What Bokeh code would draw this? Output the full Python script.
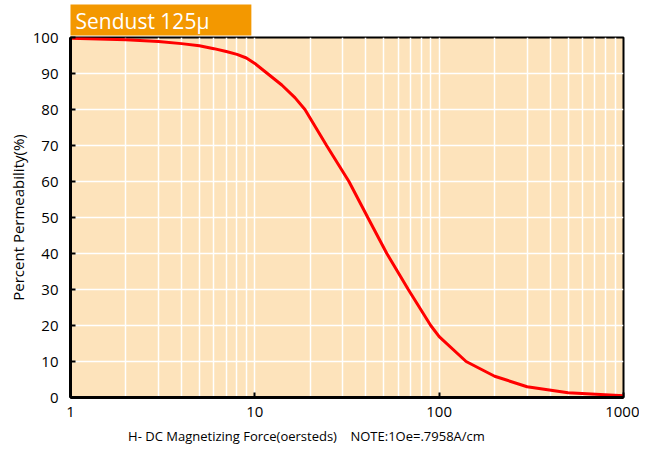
from bokeh.plotting import figure
from bokeh.models import Range1d, FixedTicker, NumeralTickFormatter
from bokeh.embed import file_html
from bokeh.resources import INLINE

# DC bias curve, Sendust 125u
H_oe = [1, 2, 3, 4, 5, 6, 7, 8, 9, 10, 11.7, 14, 16.5, 18.7, 24.5, 32.4,
        41, 52, 68, 90, 100, 140, 200, 300, 500, 1000]
perm_pct = [99.8, 99.4, 98.9, 98.3, 97.7, 96.9, 96.1, 95.3, 94.3, 92.8, 90, 86.8, 83.3, 80, 70, 60,
            50, 40, 30, 20, 16.9, 10, 5.9, 3.0, 1.3, 0.5]

x_ticks = [1, 10, 100, 1000]
y_ticks = [0, 10, 20, 30, 40, 50, 60, 70, 80, 90, 100]
x_grid_values = [2, 3, 4, 5, 6, 7, 8, 9, 10, 20, 30, 40, 50, 60, 70, 80, 90, 100,
                 200, 300, 400, 500, 600, 700, 800, 900]

title_text = "Sendust 125μ"
NB = "\u00a0"
x_label = "H- DC Magnetizing Force(oersteds)" + NB * 4 + "NOTE:1Oe=.7958A/cm" + NB * 24
y_label = "Percent Permeability(%)"

FONT = "Open Sans"

p = figure(frame_width=553, frame_height=360, x_axis_type="log",
           x_range=Range1d(1, 1000), y_range=Range1d(0, 100),
           output_backend="svg", toolbar_location=None,
           min_border_left=0, min_border_right=16, min_border_top=0, min_border_bottom=0)
p.margin = (0, 0, 0, 4)

p.background_fill_color = "#FDE3BB"
p.border_fill_color = "white"
p.outline_line_color = "black"
p.outline_line_width = 2

p.line(H_oe, perm_pct, line_color="#FF0000", line_width=3)

for ax in (p.xaxis[0], p.yaxis[0]):
    ax.axis_line_color = "black"
    ax.axis_line_width = 3
    ax.major_tick_line_color = "black"
    ax.major_tick_line_width = 2
    ax.major_tick_in = 5
    ax.major_tick_out = 0
    ax.minor_tick_line_color = None
    ax.major_label_text_font = FONT
    ax.major_label_text_font_size = "15px"
    ax.major_label_text_color = "black"
    ax.axis_label_text_font = FONT
    ax.axis_label_text_font_style = "normal"
    ax.axis_label_text_color = "black"

p.xaxis.ticker = FixedTicker(ticks=x_ticks)
p.xaxis.formatter = NumeralTickFormatter(format="0")
p.xaxis.major_label_standoff = 9
p.xaxis.axis_label = x_label
p.xaxis.axis_label_text_font_size = "13px"
p.xaxis.axis_label_standoff = 7

p.yaxis.ticker = FixedTicker(ticks=y_ticks)
p.yaxis.major_label_standoff = 12
p.yaxis.axis_label = y_label
p.yaxis.axis_label_text_font_size = "15px"
p.yaxis.axis_label_standoff = 2

p.xgrid.ticker = FixedTicker(ticks=x_grid_values)
p.xgrid.grid_line_color = "white"
p.xgrid.grid_line_width = 1.5
p.ygrid.grid_line_color = "white"
p.ygrid.grid_line_width = 1.5

p.title.text = title_text
p.title.text_color = "white"
p.title.text_font = FONT
p.title.text_font_size = "21px"
p.title.text_font_style = "normal"
p.title.align = "left"
p.title.background_fill_color = "#F39800"
p.title.standoff = 4
p.title.offset = 0
p.title.padding = dict(left=5, right=42, top=2, bottom=1)

open("out.html", "w").write(file_html(p, INLINE))
